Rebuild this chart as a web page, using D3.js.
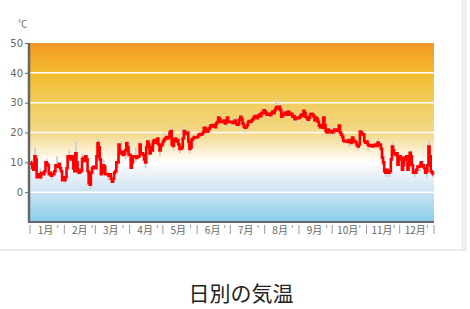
<!DOCTYPE html>
<html lang="ja">
<head>
<meta charset="UTF-8">
<title>日別の気温</title>
<script src="https://d3js.org/d3.v7.min.js"></script>
<style>
    body { margin: 0; padding: 0; background: #fff; font-family: "Noto Sans CJK JP", sans-serif; }
    .axis text { fill: #666; font-size: 10px; font-family: "DejaVu Sans", sans-serif; }
    .month text { fill: #666; font-size: 10px; font-family: "Noto Sans CJK JP", sans-serif; }
</style>
</head>
<body>
<div id="chart"></div>
<script>
// daily mean temperature, one array per month
const jan = [10, 9.5, 8, 7.5, 12, 11, 5, 5.5, 6, 5, 6.5, 6.5, 6, 7, 10, 9.5, 9, 6, 6.5, 5.5, 6, 6, 7, 9, 8.5, 9, 9.5, 8, 7, 4, 5];
const feb = [4, 5, 8, 12, 11.5, 12, 11, 12, 8, 7, 13, 10, 7, 6.5, 7.5, 7, 11, 11.5, 10.5, 12, 11, 7, 3, 2.5, 6.5, 8, 8.5, 8];
const mar = [8, 12, 16.5, 15, 11, 6, 6.5, 9, 8.5, 6, 6, 6, 5.5, 6, 4.5, 3.5, 4.5, 6.5, 7, 10, 10, 16, 13.5, 13, 13.5, 12.5, 13, 14, 16.5, 15, 12.5];
const apr = [12.5, 8.2, 10, 12, 12, 12, 11.5, 12, 12, 16, 13, 13, 12.5, 11, 10, 15, 17, 16, 13, 15, 14, 17, 17.5, 16.5, 17.5, 18, 16, 14, 15.5, 16];
const may = [17, 17.6, 18, 18.5, 18, 18.5, 20, 20.5, 16, 15.5, 17.6, 18, 17, 17.5, 16, 14.5, 14.5, 15, 18, 20.5, 20, 19.5, 20, 17, 14.5, 15, 17.6, 18, 18.5, 18.5, 18.3];
const jun = [18.5, 19, 19.5, 19.3, 19.5, 20, 21.6, 21.5, 20.5, 20.3, 21, 21.5, 22.3, 22, 22.5, 22, 21.8, 23, 23.5, 25, 24.5, 23.5, 23.6, 23.5, 24, 23, 23.6, 25, 23.5, 23.6];
const jul = [23.5, 23.6, 23.2, 23.5, 24, 23, 22.6, 22.8, 24.3, 25.3, 24.5, 23, 22, 21.6, 21.8, 22.5, 23.6, 23.8, 23.5, 24, 24.5, 25, 25.5, 25, 24.8, 25.6, 26, 25.5, 26.6, 26.5, 27.4];
const aug = [27, 26.5, 26, 26, 26.2, 25.8, 26.5, 27, 26.5, 27.5, 28.3, 28.6, 28, 28.6, 27.5, 25.3, 25.7, 26.2, 26.7, 26.5, 26, 27, 26.5, 26, 26.3, 25.3, 25.5, 24.5, 25, 25, 24.8];
const sep = [25, 25.6, 26, 25.5, 27.3, 26.5, 25.3, 24.8, 24.3, 25, 26, 26.3, 26, 25.5, 24, 25, 24.5, 23.6, 22.3, 21.8, 22.5, 21.6, 25, 22.5, 20.5, 20, 21, 20.5, 20.6, 20];
const oct = [20, 20.5, 21, 20.6, 21, 20.5, 22.3, 20, 19.3, 18.6, 17.3, 17, 17.2, 17, 16.8, 17.5, 17, 16.5, 18.3, 17.5, 17, 16.8, 16, 15.3, 16, 20.3, 20, 19.5, 19.3, 17, 16.6];
const nov = [17, 16, 15.6, 15.5, 15.8, 15.3, 15.6, 15.5, 16, 15.5, 16.6, 15.8, 16, 14.5, 11.6, 10, 7, 6.5, 7.5, 7, 6.5, 7, 11, 15.3, 14, 13, 12.5, 13, 9.2, 11];
const dec = [12, 11.5, 7.5, 9, 11.6, 11, 12, 7.5, 9, 13.2, 12, 9, 6.5, 6.8, 6.5, 7.5, 8.6, 8.5, 8.8, 10, 8.6, 9, 8, 6.5, 7, 9, 15.3, 12, 7, 6.5, 6];

// faint grey range marks: [day of year, low, high]
const grayMarks = [[1,8,11],[4,10,15],[9,4,8],[15,8,11],[19,4,7],[24,8,12],[31,3,6],[35,10,14],[41,11,17],[43,6,9],[47,9,13],[52,5,9],[54,1,4],[57,6,9],[61,13,18],[66,7,11],[70,4,7],[75,3,6],[79,8,12],[82,12,17],[86,11,15],[90,10,14],[95,10,15],[99,13,17],[104,8,12],[107,14,18],[112,15,18],[117,12,16],[121,16,20],[126,18,22],[129,14,17],[135,13,17],[137,15,22],[142,16,21],[144,13,16],[150,17,20],[157,19,22],[163,20,23],[170,23,26],[176,22,25],[183,22,25],[190,22,26],[194,20,23],[200,23,25],[206,24,27],[213,25,28],[218,25,27],[222,28,31],[225,27,30],[230,25,28],[234,25,27],[240,23,26],[244,24,27],[249,23,26],[255,25,27],[261,21,24],[265,23,26],[270,19,22],[275,19,22],[282,17,20],[288,15,18],[293,15,18],[296,14,17],[298,18,21],[305,14,17],[310,15,17],[314,15,18],[318,9,13],[321,5,8],[324,5,8],[327,13,17],[333,9,12],[337,7,10],[343,11,14],[347,5,8],[352,7,10],[358,5,8],[360,13,17],[364,5,7]];

const monthLabels = ["1月", "2月", "3月", "4月", "5月", "6月", "7月", "8月", "9月", "10月", "11月", "12月"];
const monthDays = [31, 28, 31, 30, 31, 30, 31, 31, 30, 31, 30, 31];
const yTicks = [0, 10, 20, 30, 40, 50];

const temps = [].concat(jan, feb, mar, apr, may, jun, jul, aug, sep, oct, nov, dec);

const width = 470, height = 309;
const svg = d3.select("#chart").append("svg")
    .attr("width", width)
    .attr("height", height);

// card edges
svg.append("rect").attr("x", 461).attr("y", 0).attr("width", 6).attr("height", 251).attr("fill", "#f0f0f0");
svg.append("rect").attr("x", 0).attr("y", 249).attr("width", 467).attr("height", 2).attr("fill", "#ececec");

const x = d3.scaleLinear().domain([0, 365]).range([30, 434]);
const y = d3.scaleLinear().domain([-10, 50]).range([222, 43]);

// background gradient by temperature
const grad = svg.append("defs").append("linearGradient")
    .attr("id", "bg").attr("gradientUnits", "userSpaceOnUse")
    .attr("x1", 0).attr("x2", 0).attr("y1", y(50)).attr("y2", y(-10));
[[50, "#f59826"], [40, "#f2bb2d"], [30, "#f2cd5e"], [20, "#f3d886"], [14, "#fbefcf"], [10, "#ffffff"], [5, "#e6eff7"], [0, "#cbe3f1"], [-10, "#88ceec"]]
    .forEach(s => grad.append("stop")
        .attr("offset", (50 - s[0]) / 60)
        .attr("stop-color", s[1]));

svg.append("rect")
    .attr("x", x(0)).attr("y", y(50))
    .attr("width", x(365) - x(0)).attr("height", y(-10) - y(50))
    .attr("fill", "url(#bg)");

// white grid lines
svg.selectAll(".grid").data(yTicks.filter(d => d < 50)).enter()
    .append("line")
    .attr("x1", x(0)).attr("x2", x(365))
    .attr("y1", d => y(d)).attr("y2", d => y(d))
    .attr("stroke", "#fff").attr("stroke-width", 1.5);

// grey range marks
svg.selectAll(".gm").data(grayMarks).enter()
    .append("line")
    .attr("x1", d => x(d[0] + 0.5)).attr("x2", d => x(d[0] + 0.5))
    .attr("y1", d => y(d[1])).attr("y2", d => y(d[2]))
    .attr("stroke", "#d0d0d0").attr("stroke-width", 2);

// red daily line
const line = d3.line()
    .x((d, i) => x(i + 0.5))
    .y(d => y(d))
    .curve(d3.curveStep);

svg.append("path")
    .datum(temps)
    .attr("d", line)
    .attr("fill", "none")
    .attr("stroke", "#ff0000")
    .attr("stroke-width", 2.6)
    .attr("stroke-linejoin", "miter");

// y axis
const yAxis = svg.append("g")
    .attr("class", "axis")
    .attr("transform", `translate(${x(0) - 1},0)`)
    .call(d3.axisLeft(y).tickValues(yTicks).tickSize(4).tickPadding(2));
yAxis.select(".domain").remove();
yAxis.selectAll(".tick line").attr("stroke", "#666");

svg.append("line")
    .attr("x1", x(0) - 1).attr("x2", x(0) - 1)
    .attr("y1", y(50)).attr("y2", y(-10))
    .attr("stroke", "#666").attr("stroke-width", 2.5);
svg.append("line")
    .attr("x1", x(0) - 2).attr("x2", x(365))
    .attr("y1", y(-10)).attr("y2", y(-10))
    .attr("stroke", "#666").attr("stroke-width", 2);

svg.append("text")
    .attr("x", 18).attr("y", 27)
    .attr("fill", "#666")
    .style("font-size", "9px")
    .text("℃");

// month axis
const starts = monthDays.map((d, i) => d3.sum(monthDays.slice(0, i)));
const month = svg.append("g").attr("class", "month");

month.selectAll(".mt").data(starts.concat([365])).enter()
    .append("line")
    .attr("x1", d => x(d)).attr("x2", d => x(d))
    .attr("y1", 225).attr("y2", 234)
    .attr("stroke", "#999").attr("stroke-width", 1);

month.selectAll(".ms").data(starts).enter()
    .append("line")
    .attr("x1", d => x(d + 25)).attr("x2", d => x(d + 25))
    .attr("y1", 225).attr("y2", 228)
    .attr("stroke", "#999").attr("stroke-width", 1);

month.selectAll("text").data(monthLabels).enter()
    .append("text")
    .attr("x", (d, i) => x(starts[i] + 14))
    .attr("y", 234)
    .attr("text-anchor", "middle")
    .text(d => d);

// title
svg.append("text")
    .attr("x", 241).attr("y", 301)
    .attr("text-anchor", "middle")
    .attr("fill", "#222")
    .style("font-size", "21px")
    .style("font-family", "'Noto Sans CJK JP', sans-serif")
    .text("日別の気温");
</script>
</body>
</html>
